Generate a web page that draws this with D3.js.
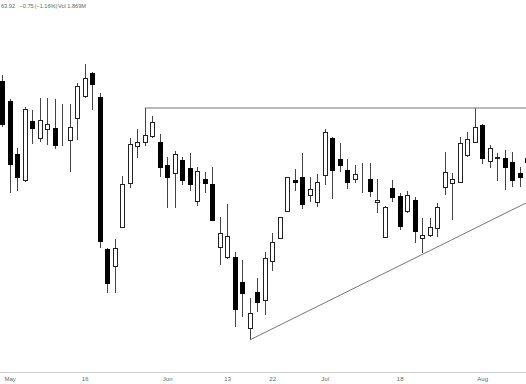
<!DOCTYPE html>
<html>
<head>
<meta charset="utf-8">
<script src="https://cdn.jsdelivr.net/npm/d3@7"></script>
<style>
  html, body { margin: 0; padding: 0; background: #fff; overflow: hidden; }
  text { font-family: "Liberation Sans", Arial, sans-serif; }
</style>
</head>
<body>
<script>
// Données : une bougie par séance
const dates = [
  "2022-04-29","2022-05-02","2022-05-03","2022-05-04","2022-05-05","2022-05-06","2022-05-09","2022-05-10",
  "2022-05-11","2022-05-12","2022-05-13","2022-05-16","2022-05-17","2022-05-18","2022-05-19","2022-05-20",
  "2022-05-23","2022-05-24","2022-05-25","2022-05-26","2022-05-27","2022-05-31","2022-06-01","2022-06-02",
  "2022-06-03","2022-06-06","2022-06-07","2022-06-08","2022-06-09","2022-06-10","2022-06-13","2022-06-14",
  "2022-06-15","2022-06-16","2022-06-17","2022-06-21","2022-06-22","2022-06-23","2022-06-24","2022-06-27",
  "2022-06-28","2022-06-29","2022-06-30","2022-07-01","2022-07-05","2022-07-06","2022-07-07","2022-07-08",
  "2022-07-11","2022-07-12","2022-07-13","2022-07-14","2022-07-15","2022-07-18","2022-07-19","2022-07-20",
  "2022-07-21","2022-07-22","2022-07-25","2022-07-26","2022-07-27","2022-07-28","2022-07-29","2022-08-01",
  "2022-08-02","2022-08-03","2022-08-04","2022-08-05","2022-08-08","2022-08-09","2022-08-10"
]

const open = [
  67.95,66.95,64.30,63.00,65.95,65.10,65.55,65.60,65.30,65.00,66.10,67.20,68.35,67.15,59.55,58.70,
  60.65,62.85,64.70,64.90,65.20,64.90,63.75,63.35,64.00,63.60,61.95,63.05,62.80,59.65,59.15,59.15,
  57.90,55.60,57.40,57.00,58.95,60.10,61.45,63.00,63.15,62.25,61.90,63.25,65.10,64.05,63.50,63.05,
  62.95,63.05,61.90,60.15,62.60,62.20,61.45,62.00,60.10,60.25,60.60,62.65,62.85,62.90,64.25,64.90,
  65.75,63.95,64.13,64.10,63.90,63.35,64.10
]

const high = [
  68.25,67.05,64.60,66.65,66.50,67.10,67.10,67.05,66.80,66.80,67.85,68.80,68.40,67.35,59.60,60.05,
  63.20,65.10,65.55,66.60,66.20,65.30,64.15,64.45,64.15,64.35,63.65,63.40,63.65,61.15,61.80,59.40,
  59.00,57.10,58.10,59.40,60.35,61.15,63.15,63.55,64.35,63.15,63.30,65.55,65.15,64.85,64.05,63.75,
  63.85,63.85,63.05,61.70,63.00,62.35,62.45,62.15,61.10,61.10,61.85,64.40,63.35,65.15,65.40,66.60,
  65.80,64.75,64.35,64.50,64.40,63.65,64.25
]

const low = [
  65.65,62.35,62.45,62.90,64.80,64.90,64.75,64.55,64.70,63.40,65.00,67.10,66.50,59.60,57.35,57.35,
  60.60,62.60,64.10,64.70,65.10,63.15,61.60,61.60,62.75,62.45,61.70,62.35,60.98,58.75,59.05,55.65,
  56.15,55.00,56.40,56.25,58.45,60.05,61.45,62.45,61.55,61.90,61.65,62.75,62.05,63.40,62.55,62.85,
  62.35,62.15,61.35,60.15,61.90,60.50,61.35,59.85,59.35,60.15,60.15,62.25,61.00,62.90,64.15,64.90,
  63.80,63.60,62.95,62.50,62.65,62.65,63.60
]

const close = [
  65.80,63.80,63.15,66.55,65.60,66.00,65.80,64.75,65.28,65.65,67.70,68.10,67.80,59.95,57.85,59.60,
  62.80,64.80,64.90,65.25,65.90,63.65,63.15,64.30,63.00,62.80,63.45,62.85,61.00,60.35,60.20,56.55,
  57.35,56.35,56.90,59.10,59.90,61.15,63.15,62.90,61.80,62.55,62.90,65.40,63.50,63.75,62.90,63.30,
  62.93,62.45,62.00,61.65,62.15,60.70,62.25,60.45,60.25,60.65,61.65,63.40,63.05,64.85,65.05,65.65,
  64.10,64.60,64.17,63.65,63.00,63.15,63.92
]

// Étiquettes de l'axe du temps
const tickIndex = [1, 11, 22, 30, 36, 43, 53, 64]
const tickLabels = ["May", "16", "Jun", "13", "22", "Jul", "18", "Aug"]

// Lignes du triangle
const resistanceDates = ["2022-05-26", "2022-08-10"]
const resistancePrices = [66.60, 66.60]
const supportDates = ["2022-06-16", "2022-08-10"]
const supportPrices = [55.00, 61.88]

const width = 526
const height = 384

var svg = d3.select("body")
        .append("svg")
        .attr("width", width)
        .attr("height", height)
        .style("background-color", "#fff")

const x = d3.scalePoint()
        .domain(dates)
        .range([2.2, 527.2])

const y = d3.scaleLinear()
        .domain([54, 72])
        .range([360, 0])

const candles = dates.map((d, i) => ({
        date: d, o: open[i], h: high[i], l: low[i], c: close[i]
}))

svg.append("clipPath").attr("id", "plot")
        .append("rect").attr("x", 0).attr("y", 0).attr("width", width).attr("height", 372)

const plot = svg.append("g").attr("clip-path", "url(#plot)")

// Mèches
plot.selectAll("line.wick")
        .data(candles)
        .enter()
        .append("line")
                .attr("class", "wick")
                .attr("x1", d => Math.round(x(d.date)) + 0.5)
                .attr("x2", d => Math.round(x(d.date)) + 0.5)
                .attr("y1", d => y(d.h))
                .attr("y2", d => y(d.l))
                .attr("stroke", "#444")
                .attr("stroke-width", 1)

// Corps
plot.selectAll("rect.body")
        .data(candles)
        .enter()
        .append("rect")
                .attr("class", "body")
                .attr("x", d => Math.round(x(d.date)) - 2 + 0.5)
                .attr("width", 4)
                .attr("y", d => Math.round(y(Math.max(d.o, d.c))) + 0.5)
                .attr("height", d => Math.max(0, Math.round(Math.abs(y(d.o) - y(d.c)))))
                .attr("fill", d => d.c >= d.o ? "#fff" : "#000")
                .attr("stroke", d => d.c >= d.o ? "#222" : "#000")
                .attr("stroke-width", 1)

// Tendances
const trend = d3.line()
        .x(d => x(d[0]))
        .y(d => y(d[1]))

plot.append("path")
        .attr("d", trend(d3.zip(resistanceDates, resistancePrices)))
        .attr("fill", "none")
        .attr("stroke", "#777")
        .attr("stroke-width", 1)

plot.append("path")
        .attr("d", trend(d3.zip(supportDates, supportPrices)))
        .attr("fill", "none")
        .attr("stroke", "#777")
        .attr("stroke-width", 1)

// Axe des dates
svg.append("line")
        .attr("x1", 0).attr("x2", width)
        .attr("y1", 372.5).attr("y2", 372.5)
        .attr("stroke", "#cfcfcf")

const xAxis = svg.append("g")
        .attr("transform", "translate(0,372)")
        .call(d3.axisBottom(x)
                .tickValues(tickIndex.map(i => dates[i]))
                .tickFormat((d, i) => tickLabels[i])
                .tickSize(0)
                .tickPadding(4.7))

xAxis.select(".domain").remove()
xAxis.selectAll("text")
        .style("font-size", "6px")
        .style("font-family", "'Liberation Sans', Arial, sans-serif")
        .attr("fill", "#666")

// Légende en haut
const header = svg.append("text")
        .attr("y", 8)
        .style("font-size", "5.6px")
        .attr("fill", "#666")

header.append("tspan").attr("x", 1).text("63.92")
header.append("tspan").attr("x", 19.5).text("\u22120.75")
header.append("tspan").attr("x", 34.5).text("(\u22121.16%)")
header.append("tspan").attr("x", 58).text("Vol 1.869M")
</script>
</body>
</html>
